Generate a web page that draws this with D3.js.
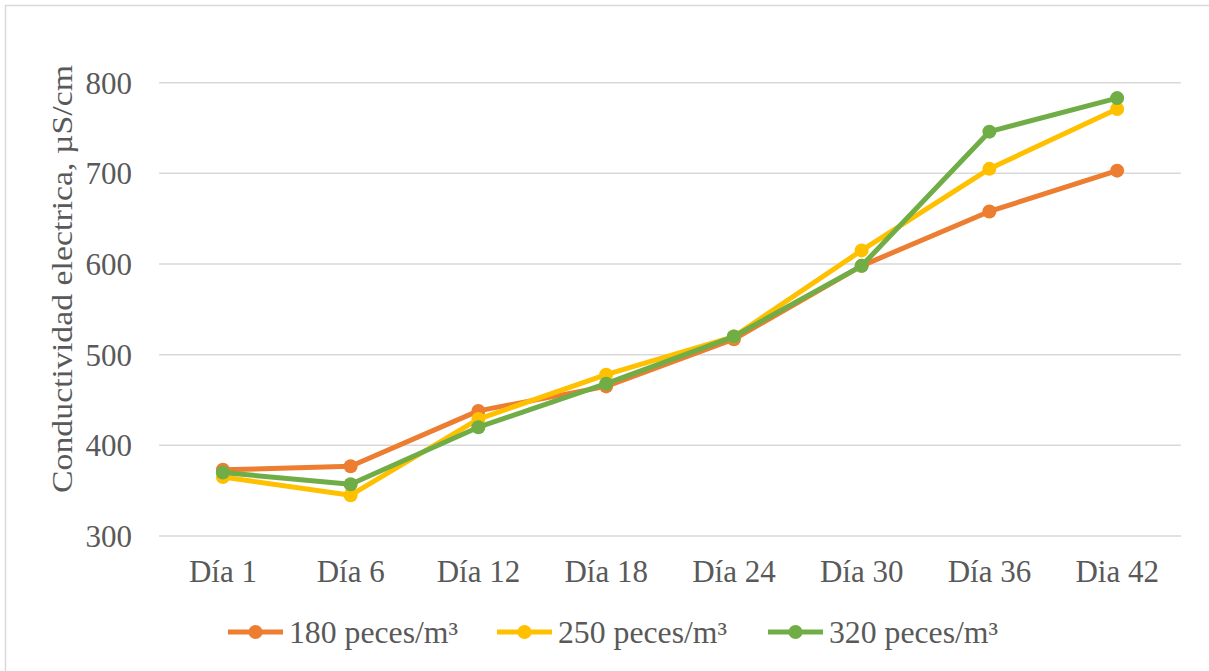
<!DOCTYPE html>
<html>
<head>
<meta charset="utf-8">
<script src="https://cdn.jsdelivr.net/npm/d3@7"></script>
<style>
  html, body { margin: 0; padding: 0; background: #fff; }
  svg { display: block; }
</style>
</head>
<body>
<svg id="chart" width="1209" height="671"></svg>
<script>
const categories = ["Día 1", "Día 6", "Día 12", "Día 18", "Día 24", "Día 30", "Día 36", "Dia 42"];
const seriesNames = ["180 peces/m³", "250 peces/m³", "320 peces/m³"];
const s180 = [373, 377, 438, 465, 517, 598, 658, 703];
const s250 = [365, 345, 429, 478, 520, 615, 705, 771];
const s320 = [370, 357, 420, 468, 520, 598, 746, 783];
const yTicks = [300, 400, 500, 600, 700, 800];
const colors = ["#ED7D31", "#FFC000", "#70AD47"];
const yTitle = "Conductividad electrica, µS/cm";

(function () {
const FONT = "'Liberation Serif', 'Times New Roman', Tinos, serif";
const series = [s180, s250, s320].map((v, i) => ({ name: seriesNames[i], values: v, color: colors[i] }));

const svg = d3.select("#chart");

// outer border
svg.append("rect").attr("x", 5.5).attr("y", 5.5).attr("width", 1210).attr("height", 680)
  .attr("fill", "none").attr("stroke", "#D9D9D9").attr("stroke-width", 1.5);

const pLeft = 159, pRight = 1181, pTop = 82.7, pBottom = 536;
const x = d3.scaleBand().domain(categories).range([pLeft, pRight]);
const y = d3.scaleLinear().domain([300, 800]).range([pBottom, pTop]);

// gridlines
svg.append("g").selectAll("line").data(yTicks).join("line")
  .attr("x1", pLeft).attr("x2", pRight)
  .attr("y1", d => y(d)).attr("y2", d => y(d))
  .attr("stroke", "#D9D9D9").attr("stroke-width", 1.5);

// y axis labels
const yAxis = svg.append("g").attr("transform", `translate(${pLeft - 27},0)`)
  .call(d3.axisLeft(y).tickValues(yTicks).tickSize(0).tickPadding(0));
yAxis.attr("font-family", null).attr("font-size", null);
yAxis.select(".domain").remove();
yAxis.selectAll("text").style("font-size", "31px").style("fill", "#595959")
  .style("font-family", FONT).attr("dy", "0.34em");

// x axis labels
const xAxis = svg.append("g").attr("transform", `translate(0,${pBottom})`)
  .call(d3.axisBottom(x).tickSize(0).tickPadding(24));
xAxis.attr("font-family", null).attr("font-size", null);
xAxis.select(".domain").remove();
xAxis.selectAll("text").style("font-size", "31px").style("fill", "#595959")
  .style("font-family", FONT);

// y title
svg.append("text")
  .attr("transform", `translate(72,279) rotate(-90)`)
  .attr("text-anchor", "middle")
  .style("font-size", "30px").style("font-family", FONT).style("fill", "#595959")
  .attr("textLength", 428).attr("lengthAdjust", "spacingAndGlyphs")
  .text(yTitle);

// lines
const line = d3.line()
  .x((d, i) => x(categories[i]) + x.bandwidth() / 2)
  .y(d => y(d));

const g = svg.append("g");
series.forEach(s => {
  g.append("path").datum(s.values)
    .attr("d", line).attr("fill", "none")
    .attr("stroke", s.color).attr("stroke-width", 5).attr("stroke-linejoin", "round").attr("stroke-linecap", "round");
  g.selectAll(null).data(s.values).join("circle")
    .attr("cx", (d, i) => x(categories[i]) + x.bandwidth() / 2)
    .attr("cy", d => y(d))
    .attr("r", 7)
    .attr("fill", s.color);
});

// legend
const legendX = [228, 497, 768];
const legendY = 632;
series.forEach((s, i) => {
  const lg = svg.append("g").attr("transform", `translate(${legendX[i]},${legendY})`);
  lg.append("line").attr("x1", 0).attr("x2", 55).attr("y1", 0).attr("y2", 0)
    .attr("stroke", s.color).attr("stroke-width", 5);
  lg.append("circle").attr("cx", 27.5).attr("cy", 0).attr("r", 7).attr("fill", s.color);
  lg.append("text").attr("x", 61).attr("y", 0).attr("dy", "0.35em")
    .style("font-size", "31px").style("font-family", FONT).style("fill", "#595959")
    .attr("textLength", 169).attr("lengthAdjust", "spacingAndGlyphs").text(s.name);
});
})();
</script>
</body>
</html>
